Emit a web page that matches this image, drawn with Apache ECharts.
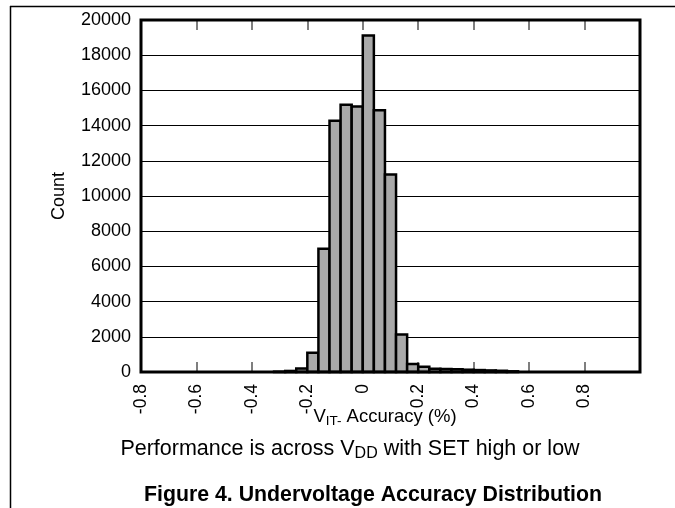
<!DOCTYPE html>
<html>
<head>
<meta charset="utf-8">
<script src="https://cdn.jsdelivr.net/npm/echarts@6/dist/echarts.min.js"></script>
<style>
html,body{margin:0;padding:0;background:#fff;}
#chart{width:675px;height:508px;}
</style>
</head>
<body>
<div id="chart"></div>
<script>
// ---- data ----
const binLow  = [-0.32, -0.28, -0.24, -0.20, -0.16, -0.12, -0.08, -0.04, 0.00, 0.04, 0.08, 0.12, 0.16, 0.20, 0.24, 0.28, 0.32, 0.36, 0.40, 0.44, 0.48, 0.52];
const binHigh = [-0.28, -0.24, -0.20, -0.16, -0.12, -0.08, -0.04, 0.00, 0.04, 0.08, 0.12, 0.16, 0.20, 0.24, 0.28, 0.32, 0.36, 0.40, 0.44, 0.48, 0.52, 0.56];
const counts  = [20, 60, 200, 1100, 7000, 14270, 15180, 15080, 19120, 14870, 11220, 2130, 450, 300, 180, 170, 150, 130, 110, 90, 70, 40];
const xTickLabels = ['-0.8', '-0.6', '-0.4', '-0.2', '0', '0.2', '0.4', '0.6', '0.8'];
const yTickLabels = ['0', '2000', '4000', '6000', '8000', '10000', '12000', '14000', '16000', '18000', '20000'];

const FONT = '"Liberation Sans", Arial, Helvetica, sans-serif';
const chart = echarts.init(document.getElementById('chart'), null, {renderer: 'canvas'});

const cv = document.createElement('canvas').getContext('2d');
function measure(t, size, bold) {
  cv.font = (bold ? 'bold ' : '') + size + 'px ' + FONT;
  return cv.measureText(t).width;
}
// build a line of text with subscripts, centered at cx
function subLine(cx, cy, parts, bold) {
  let total = 0;
  parts.forEach(p => { p.w = measure(p.t, p.s, bold); total += p.w; });
  let x = cx - total / 2;
  const els = [];
  parts.forEach(p => {
    els.push({
      type: 'text', silent: true,
      style: {
        text: p.t, x: x, y: cy + (p.dy || 0), fill: '#000',
        font: (bold ? 'bold ' : '') + p.s + 'px ' + FONT,
        align: 'left', verticalAlign: 'middle'
      }
    });
    x += p.w;
  });
  return els;
}

const data = binLow.map((lo, i) => [lo, binHigh[i], counts[i]]);

const graphics = [].concat(
  [
    {type: 'line', silent: true, shape: {x1: 10, y1: 6.5, x2: 675, y2: 6.5}, style: {stroke: '#000', lineWidth: 1.5}},
    {type: 'line', silent: true, shape: {x1: 10.5, y1: 6, x2: 10.5, y2: 508}, style: {stroke: '#000', lineWidth: 1.5}}
  ],
  subLine(385, 417, [
    {t: 'V', s: 18.5},
    {t: 'IT-', s: 13.5, dy: 4},
    {t: ' Accuracy (%)', s: 18.5}
  ]),
  subLine(350, 449, [
    {t: 'Performance is across V', s: 21.5},
    {t: 'DD', s: 16, dy: 5},
    {t: ' with SET high or low', s: 21.5}
  ]),
  subLine(373, 495, [
    {t: 'Figure 4. Undervoltage Accuracy Distribution', s: 21.3}
  ], true)
);

const option = {
  animation: false,
  backgroundColor: '#fff',
  textStyle: {fontFamily: FONT},
  grid: {left: 141, right: 35, top: 20, bottom: 136, show: true, borderColor: '#000', borderWidth: 3, backgroundColor: 'transparent', z: 10},
  xAxis: [
    {
      type: 'value', min: -0.8, max: 1.0, interval: 0.2, position: 'bottom',
      axisLine: {show: false},
      axisTick: {show: true, inside: true, length: 10, lineStyle: {color: '#555', width: 1.5}},
      splitLine: {show: false},
      axisLabel: {
        rotate: 90, margin: 12, color: '#000', fontSize: 17.5, fontFamily: FONT,
        formatter: function (v) {
          const k = Math.round((v + 0.8) / 0.2);
          return xTickLabels[k] !== undefined ? xTickLabels[k] : '';
        }
      }
    },
    {
      type: 'value', min: -0.8, max: 1.0, interval: 0.2, position: 'top',
      axisLine: {show: false},
      axisTick: {show: true, inside: true, length: 10, lineStyle: {color: '#555', width: 1.5}},
      splitLine: {show: false},
      axisLabel: {show: false}
    }
  ],
  yAxis: {
    type: 'value', min: 0, max: 20000, interval: 2000,
    name: 'Count', nameLocation: 'middle', nameGap: 73, nameRotate: 90,
    nameTextStyle: {color: '#000', fontSize: 18, fontFamily: FONT},
    axisLine: {show: false},
    axisTick: {show: false},
    splitLine: {show: true, lineStyle: {color: '#000', width: 1}},
    axisLabel: {
      color: '#000', fontSize: 18, fontFamily: FONT, margin: 10,
      formatter: function (v) {
        const k = Math.round(v / 2000);
        return yTickLabels[k] !== undefined ? yTickLabels[k] : '';
      }
    }
  },
  series: [{
    type: 'custom',
    xAxisIndex: 0,
    renderItem: function (params, api) {
      const p0 = api.coord([api.value(0), 0]);
      const p1 = api.coord([api.value(1), api.value(2)]);
      return {
        type: 'rect',
        shape: {x: p0[0], y: p1[1], width: p1[0] - p0[0], height: p0[1] - p1[1]},
        style: {fill: '#a9a9a9', stroke: '#000', lineWidth: 2.5}
      };
    },
    encode: {x: [0, 1], y: 2},
    data: data,
    z: 5
  }],
  graphic: graphics
};
chart.setOption(option);
</script>
</body>
</html>
